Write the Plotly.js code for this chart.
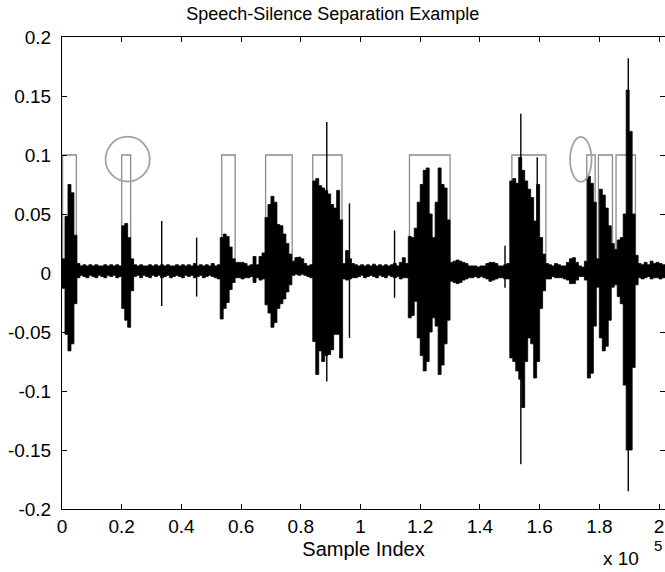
<!DOCTYPE html>
<html>
<head>
<meta charset="utf-8">
<script src="https://cdn.plot.ly/plotly-3.0.1.min.js"></script>
<style>html,body{margin:0;padding:0;background:#fff;}#chart{width:665px;height:572px;}</style>
</head>
<body>
<div id="chart"></div>
<script>
// Waveform envelope, one value per 1000-sample bin (bin i covers samples i*1000 .. i*1000+999)
var binWidth = 1000;
var upperEnv = [
0.012,0.048,0.075,0.068,0.032,0.008,0.006,0.007,0.006,0.007,
0.006,0.007,0.006,0.006,0.007,0.006,0.007,0.006,0.007,0.006,
0.040,0.042,0.030,0.012,0.007,0.006,0.007,0.006,0.006,0.007,
0.006,0.007,0.006,0.007,0.006,0.007,0.006,0.006,0.007,0.006,
0.007,0.006,0.007,0.006,0.008,0.006,0.007,0.006,0.007,0.006,
0.008,0.006,0.007,0.030,0.033,0.031,0.022,0.012,0.009,0.009,
0.009,0.008,0.006,0.007,0.014,0.007,0.014,0.017,0.047,0.058,
0.065,0.060,0.041,0.040,0.033,0.025,0.016,0.010,0.013,0.0135,
0.012,0.008,0.006,0.007,0.078,0.080,0.074,0.072,0.070,0.067,
0.058,0.055,0.070,0.045,0.008,0.019,0.012,0.008,0.007,0.006,
0.007,0.006,0.007,0.006,0.0075,0.006,0.007,0.006,0.007,0.006,
0.007,0.008,0.006,0.009,0.013,0.008,0.031,0.030,0.038,0.060,
0.075,0.087,0.089,0.050,0.030,0.060,0.089,0.075,0.072,0.045,
0.009,0.010,0.011,0.010,0.009,0.008,0.006,0.006,0.006,0.005,
0.006,0.006,0.008,0.009,0.009,0.008,0.006,0.006,0.007,0.008,
0.078,0.080,0.076,0.098,0.087,0.078,0.071,0.064,0.044,0.075,
0.030,0.016,0.008,0.007,0.006,0.008,0.007,0.006,0.006,0.009,
0.012,0.013,0.009,0.006,0.005,0.010,0.082,0.076,0.060,0.012,
0.071,0.066,0.055,0.040,0.025,0.020,0.028,0.030,0.050,0.155,
0.120,0.050,0.015,0.008,0.007,0.009,0.007,0.010,0.008,0.009,
0.008,0.007
];
var lowerEnv = [
-0.013,-0.052,-0.066,-0.060,-0.026,-0.004,-0.002,-0.003,-0.004,-0.002,
-0.003,-0.004,-0.002,-0.003,-0.004,-0.002,-0.003,-0.002,-0.004,-0.003,
-0.030,-0.040,-0.046,-0.015,-0.003,-0.002,-0.004,-0.002,-0.003,-0.004,
-0.002,-0.003,-0.002,-0.004,-0.003,-0.002,-0.004,-0.003,-0.002,-0.003,
-0.004,-0.002,-0.003,-0.002,-0.004,-0.003,-0.002,-0.004,-0.003,-0.002,
-0.003,-0.004,-0.005,-0.039,-0.030,-0.025,-0.014,-0.008,-0.004,-0.004,
-0.005,-0.004,-0.004,-0.003,-0.008,-0.004,-0.006,-0.005,-0.027,-0.034,
-0.046,-0.042,-0.030,-0.026,-0.022,-0.016,-0.010,-0.002,-0.001,-0.002,
-0.001,-0.002,-0.003,-0.004,-0.058,-0.086,-0.066,-0.075,-0.070,-0.069,
-0.065,-0.052,-0.052,-0.072,-0.005,-0.006,-0.005,-0.004,-0.004,-0.003,
-0.002,-0.004,-0.003,-0.002,-0.003,-0.004,-0.002,-0.003,-0.004,-0.002,
-0.003,-0.004,-0.003,-0.005,-0.004,-0.004,-0.038,-0.036,-0.024,-0.055,
-0.070,-0.083,-0.075,-0.050,-0.038,-0.045,-0.086,-0.078,-0.060,-0.040,
-0.007,-0.008,-0.009,-0.008,-0.006,-0.005,-0.004,-0.004,-0.003,-0.004,
-0.003,-0.004,-0.005,-0.007,-0.006,-0.005,-0.004,-0.004,-0.005,-0.005,
-0.072,-0.075,-0.083,-0.090,-0.114,-0.075,-0.055,-0.060,-0.089,-0.075,
-0.030,-0.015,-0.005,-0.005,-0.003,-0.004,-0.004,-0.004,-0.005,-0.006,
-0.009,-0.009,-0.006,-0.003,-0.003,-0.006,-0.089,-0.085,-0.045,-0.012,
-0.055,-0.066,-0.062,-0.040,-0.012,-0.010,-0.020,-0.026,-0.095,-0.150,
-0.150,-0.080,-0.010,-0.004,-0.005,-0.004,-0.003,-0.005,-0.004,-0.004,
-0.005,-0.004
];
// Thin isolated spikes (sample index, top, bottom)
var spikeX = [33400, 45100, 88700, 96300, 111400, 148400, 153700, 159200, 189700];
var spikeTop = [0.044, 0.030, 0.128, 0.059, 0.036, 0.023, 0.135, 0.098, 0.182];
var spikeBottom = [-0.028, -0.020, -0.092, -0.055, -0.021, -0.0125, -0.162, -0.060, -0.185];
// Speech segments found by the detector
var gateStart = [200, 20000, 53500, 68200, 84000, 116400, 150700, 175800, 179700, 185600];
var gateEnd = [4800, 23000, 58000, 77100, 93800, 130000, 162100, 178600, 184400, 192100];
var gateLevel = 0.1;
var signalLength = 202000;
// Highlight ellipses
var circleX = [22000, 173800];
var circleY = [0.0965, 0.0963];
var circleRX = [7400, 3600];
var circleRY = [0.019, 0.019];
// Tick labels
var xTickVals = [0, 20000, 40000, 60000, 80000, 100000, 120000, 140000, 160000, 180000, 200000];
var xTickText = ['0','0.2','0.4','0.6','0.8','1','1.2','1.4','1.6','1.8','2'];
var yTickVals = [-0.2,-0.15,-0.1,-0.05,0,0.05,0.1,0.15,0.2];
var yTickText = ['-0.2','-0.15','-0.1','-0.05','0','0.05','0.1','0.15','0.2'];

// Envelope polygon: along the upper edge left to right, back along the lower edge
var px = [], py = [];
for (var i = 0; i < upperEnv.length; i++) {
  px.push(i * binWidth, (i + 1) * binWidth);
  py.push(upperEnv[i], upperEnv[i]);
}
for (var i2 = lowerEnv.length - 1; i2 >= 0; i2--) {
  px.push((i2 + 1) * binWidth, i2 * binWidth);
  py.push(lowerEnv[i2], lowerEnv[i2]);
}
var sx = [], sy = [];
for (var j = 0; j < spikeX.length; j++) {
  sx.push(spikeX[j], spikeX[j], null);
  sy.push(spikeBottom[j], spikeTop[j], null);
}
var gx = [0], gy = [0];
for (var k = 0; k < gateStart.length; k++) {
  gx.push(gateStart[k], gateStart[k], gateEnd[k], gateEnd[k]);
  gy.push(0, gateLevel, gateLevel, 0);
}
gx.push(signalLength); gy.push(0);

var shapes = [];
for (var c = 0; c < circleX.length; c++) {
  shapes.push({type:'circle', xref:'x', yref:'y',
    x0: circleX[c]-circleRX[c], x1: circleX[c]+circleRX[c],
    y0: circleY[c]-circleRY[c], y1: circleY[c]+circleRY[c],
    line:{color:'#a3a3a3', width:1.8}, fillcolor:'rgba(0,0,0,0)'});
}

var font = "'Liberation Sans', Arial, Helvetica, sans-serif";
var data = [
  {type:'scatter', mode:'lines', x: gx, y: gy, line:{color:'#8c8c8c', width:1.3},
   hoverinfo:'skip', showlegend:false},
  {type:'scatter', mode:'lines', x: px, y: py, fill:'toself', fillcolor:'#000',
   line:{color:'#000', width:0.8}, hoverinfo:'skip', showlegend:false},
  {type:'scatter', mode:'lines', x: sx, y: sy, line:{color:'#000', width:1.4},
   hoverinfo:'skip', showlegend:false, connectgaps:false}
];
var layout = {
  width:665, height:572,
  margin:{l:62, r:0, t:37, b:63},
  paper_bgcolor:'#fff', plot_bgcolor:'#fff',
  font:{family:font, color:'#000', size:19},
  showlegend:false,
  title:{text:'Speech-Silence Separation Example', font:{family:font, size:18, color:'#000'},
         x:0.449, xref:'paper', xanchor:'center', y:1-14/572, yanchor:'middle'},
  xaxis:{range:[0, signalLength], tickvals:xTickVals, ticktext:xTickText,
         ticks:'inside', ticklen:5, tickcolor:'#000', tickwidth:1,
         showline:true, linecolor:'#000', linewidth:1, mirror:'ticks',
         showgrid:false, zeroline:false, fixedrange:true,
         tickfont:{family:font, size:19, color:'#000'},
         title:{text:'Sample Index', font:{family:font, size:20, color:'#000'}, standoff:6}},
  yaxis:{range:[-0.2, 0.2], tickvals:yTickVals, ticktext:yTickText,
         ticks:'inside', ticklen:5, tickcolor:'#000', tickwidth:1,
         showline:true, linecolor:'#000', linewidth:1, mirror:'ticks',
         showgrid:false, zeroline:false, fixedrange:true, ticklabelstandoff:6,
         tickfont:{family:font, size:19, color:'#000'}},
  shapes: shapes,
  annotations:[
    {text:'x 10', xref:'paper', yref:'paper', x:0.927, y:-0.104, xanchor:'center', yanchor:'middle',
     showarrow:false, font:{family:font, size:19, color:'#000'}},
    {text:'5', xref:'paper', yref:'paper', x:0.988, y:-0.078, xanchor:'center', yanchor:'middle',
     showarrow:false, font:{family:font, size:15, color:'#000'}}
  ]
};
Plotly.newPlot('chart', data, layout, {staticPlot:true, displayModeBar:false});
</script>
</body>
</html>
